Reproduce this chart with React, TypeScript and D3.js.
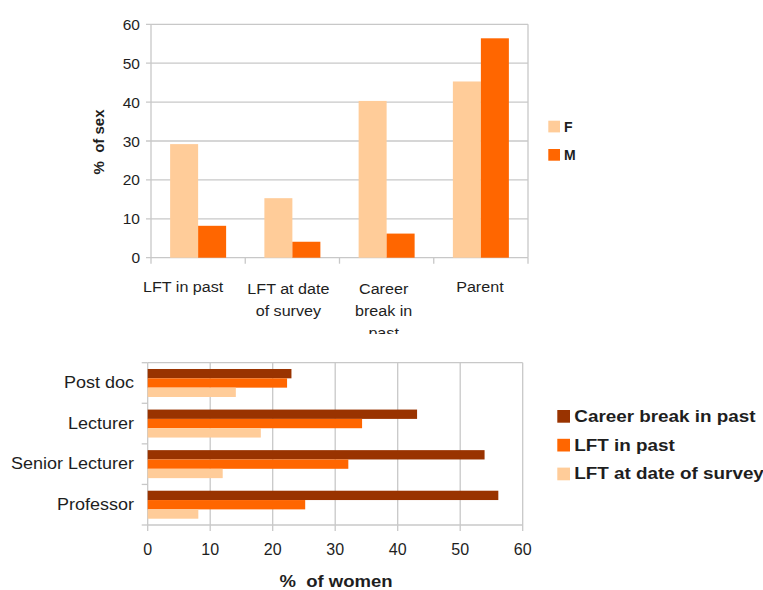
import React from "react";
import * as d3 from "d3";

// Top chart: share of each sex
const sexCategories = [
  ["LFT in past"],
  ["LFT at date", "of survey"],
  ["Career", "break in", "past"],
  ["Parent"],
];
const sexKeys = ["F", "M"];
const femaleValues = [29.2, 15.3, 40.3, 45.3];
const maleValues = [8.2, 4.1, 6.2, 56.4];
const sexTicks = [0, 10, 20, 30, 40, 50, 60];

// Bottom chart: share of women by grade
const grades = ["Post doc", "Lecturer", "Senior Lecturer", "Professor"];
const womenKeys = ["Career break in past", "LFT in past", "LFT at date of survey"];
const careerBreakValues = [23.0, 43.1, 53.9, 56.1];
const lftPastValues = [22.3, 34.3, 32.1, 25.2];
const lftSurveyValues = [14.1, 18.1, 12.0, 8.1];
const womenTicks = [0, 10, 20, 30, 40, 50, 60];

const FONT = "'Liberation Sans', Arial, sans-serif";
const GRID = "#c8c8c8";
const TEXT = "#1e1e1e";
const colors: Record<string, string> = {
  F: "#ffcc99",
  M: "#ff6600",
  "Career break in past": "#993300",
  "LFT in past": "#ff6600",
  "LFT at date of survey": "#ffcc99",
};

// Category label nudges (single-line labels sit left of the band centre)
const labelShift = [-15, -4, -3, -1];

function TopChart() {
  const left = 151, right = 528, top = 24.3, bottom = 257.7;
  const y = d3.scaleLinear().domain([0, 60]).range([bottom, top]);
  const keys = sexCategories.map((c) => c.join(" "));
  const x = d3.scaleBand<string>().domain(keys).range([left, right]).padding(0);
  const step = x.bandwidth();
  const inner = d3
    .scaleBand<string>()
    .domain(sexKeys)
    .range([0, step])
    .paddingInner(0)
    .paddingOuter((step - 56) / 2 / 28);
  const series: Record<string, number[]> = { F: femaleValues, M: maleValues };
  const boundaries = [left, ...keys.map((k) => (x(k) as number) + step)];

  return (
    <g>
      <defs>
        <clipPath id="catClip">
          <rect x={0} y={0} width={763} height={334} />
        </clipPath>
      </defs>
      {sexTicks.map((t) => (
        <g key={t}>
          <line x1={left - 5} x2={right} y1={y(t)} y2={y(t)} stroke={GRID} strokeWidth={1.3} />
          <text x={140} y={y(t) + 5.5} textAnchor="end" fontSize={15.5} fill={TEXT}>
            {t}
          </text>
        </g>
      ))}
      <line x1={left} x2={left} y1={top} y2={bottom} stroke={GRID} strokeWidth={1.3} />
      <line x1={right} x2={right} y1={top} y2={bottom} stroke={GRID} strokeWidth={1.3} />
      {boundaries.map((b, i) => (
        <line key={i} x1={b} x2={b} y1={bottom} y2={bottom + 6} stroke={GRID} strokeWidth={1.3} />
      ))}
      {keys.map((k, i) =>
        sexKeys.map((s) => {
          const v = series[s][i];
          return (
            <rect
              key={k + s}
              x={(x(k) as number) + (inner(s) as number)}
              y={y(v)}
              width={inner.bandwidth()}
              height={y(0) - y(v)}
              fill={colors[s]}
            />
          );
        })
      )}
      <g clipPath="url(#catClip)">
        {sexCategories.map((lines, i) => {
          const cx = (x(keys[i]) as number) + step / 2 + labelShift[i];
          return (
            <g key={i} transform={`translate(${cx},0) scale(1.04,1)`}>
              <text textAnchor="middle" fontSize={15.5} fill={TEXT}>
                {lines.map((l, j) => (
                  <tspan key={j} x={0} y={(lines.length > 1 ? 294.5 : 292.5) + j * 22}>
                    {l}
                  </tspan>
                ))}
              </text>
            </g>
          );
        })}
      </g>
      <text
        transform={`translate(104,142) rotate(-90)`}
        textAnchor="middle"
        fontSize={15}
        fontWeight="bold"
        fill={TEXT}
        style={{ whiteSpace: "pre" }}
      >
        {"%  of sex"}
      </text>
      {sexKeys.map((s, i) => (
        <g key={s}>
          <rect x={548.3} y={120.7 + i * 28.3} width={11.7} height={11.7} fill={colors[s]} />
          <text x={564} y={131.7 + i * 28.3} fontSize={14} fontWeight="bold" fill={TEXT}>
            {s}
          </text>
        </g>
      ))}
    </g>
  );
}

function BottomChart() {
  const left = 147.7, right = 522.7, top = 362.7, bottom = 525;
  const x = d3.scaleLinear().domain([0, 60]).range([left, right]);
  const y = d3.scaleBand<string>().domain(grades).range([top, bottom]).padding(0);
  const step = y.bandwidth();
  const barH = 9.33;
  const inner = d3
    .scaleBand<string>()
    .domain(womenKeys)
    .range([0, step])
    .paddingInner(0)
    .paddingOuter((step - barH * 3) / 2 / barH);
  const series: Record<string, number[]> = {
    "Career break in past": careerBreakValues,
    "LFT in past": lftPastValues,
    "LFT at date of survey": lftSurveyValues,
  };
  const boundaries = [top, ...grades.map((g) => (y(g) as number) + step)];

  return (
    <g>
      <line x1={left} x2={right} y1={top} y2={top} stroke={GRID} strokeWidth={1.3} />
      {womenTicks.map((t) => (
        <g key={t}>
          <line x1={x(t)} x2={x(t)} y1={top} y2={bottom + 6} stroke={GRID} strokeWidth={1.3} />
          <text x={x(t)} y={555} textAnchor="middle" fontSize={16} fill={TEXT}>
            {t}
          </text>
        </g>
      ))}
      <line x1={left} x2={right} y1={bottom} y2={bottom} stroke={GRID} strokeWidth={1.3} />
      {boundaries.map((b, i) => (
        <line key={i} x1={left - 6} x2={left} y1={b} y2={b} stroke={GRID} strokeWidth={1.3} />
      ))}
      {grades.map((g, i) =>
        womenKeys.map((s) => {
          const v = series[s][i];
          return (
            <rect
              key={g + s}
              x={x(0)}
              y={(y(g) as number) + (inner(s) as number)}
              width={x(v) - x(0)}
              height={inner.bandwidth()}
              fill={colors[s]}
            />
          );
        })
      )}
      {grades.map((g) => (
        <g key={g} transform={`translate(134,${(y(g) as number) + step / 2 + 5}) scale(1.06,1)`}>
          <text textAnchor="end" fontSize={17} fill={TEXT}>
            {g}
          </text>
        </g>
      ))}
      <g transform="translate(336,587) scale(1.09,1)">
        <text
          textAnchor="middle"
          fontSize={17}
          fontWeight="bold"
          fill={TEXT}
          style={{ whiteSpace: "pre" }}
        >
          {"%  of women"}
        </text>
      </g>
      {womenKeys.map((s, i) => (
        <g key={s}>
          <rect x={557.3} y={410 + i * 28.8} width={12.7} height={12.7} fill={colors[s]} />
          <g transform={`translate(574.3,${421.7 + i * 28.8}) scale(1.11,1)`}>
            <text fontSize={17} fontWeight="bold" fill={TEXT}>
              {s}
            </text>
          </g>
        </g>
      ))}
    </g>
  );
}

export default function App() {
  return (
    <svg
      width={763}
      height={590}
      style={{ position: "absolute", left: 0, top: 0, background: "#fff" }}
      fontFamily={FONT}
    >
      <rect width={763} height={590} fill="#fff" />
      <TopChart />
      <BottomChart />
    </svg>
  );
}
